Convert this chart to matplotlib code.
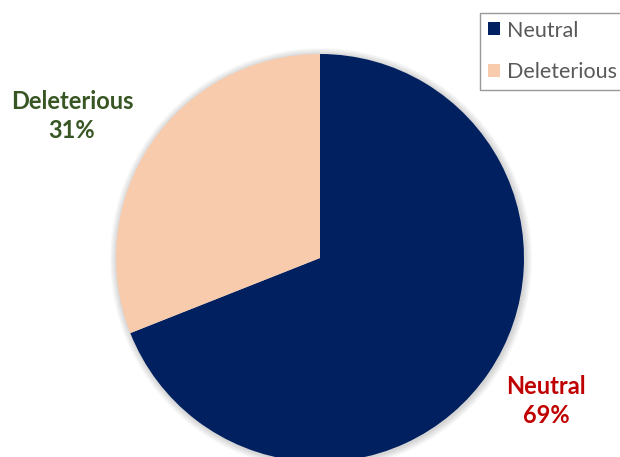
import matplotlib.pyplot as plt
from matplotlib.patches import Circle, Patch

# mutation effect shares
labels = ['Neutral', 'Deleterious']
shares = [69, 31]
colors = ['#002060', '#F8CBAD']
label_colors = ['#C00000', '#375623']

W, H = 620, 457
fig = plt.figure(figsize=(W / 100, H / 100), dpi=100)
ax = fig.add_axes([0, 0, 1, 1])

cx, cy, r = 320, H - 258, 204

# soft shadow around the pie
for i in range(1, 8):
    ax.add_patch(Circle((cx + 1, cy - 1), r + i, color='black', alpha=0.025, lw=0, zorder=0))

ax.pie(shares, colors=colors, startangle=90, counterclock=False,
       center=(cx, cy), radius=r, frame=True,
       wedgeprops=dict(linewidth=0))
ax.set_xlim(0, W)
ax.set_ylim(0, H)
ax.set_aspect('equal')
ax.axis('off')

# data labels outside the pie
pos = {'Neutral': (546, H - 401), 'Deleterious': (72, H - 116)}
for lab, val, c in zip(labels, shares, label_colors):
    x, y = pos[lab]
    ax.text(x, y, f'{lab}\n{val}%', color=c, fontsize=17, fontweight='bold',
            family='Lato', ha='center', va='center', linespacing=1.35)

handles = [Patch(facecolor=c, edgecolor='none', label=l) for l, c in zip(labels, colors)]
leg = fig.legend(handles=handles, loc='upper left',
                 bbox_to_anchor=(480 / W, 1 - 13 / H), borderaxespad=0,
                 frameon=True, fancybox=False,
                 prop={'family': 'Lato', 'size': 15.5}, labelcolor='#595959',
                 handlelength=0.56, handleheight=0.56, handletextpad=0.35,
                 labelspacing=1.0, borderpad=0.35)
leg.get_frame().set_edgecolor('#7F7F7F')
leg.get_frame().set_linewidth(1.0)

fig.savefig('out.png', dpi=100)
